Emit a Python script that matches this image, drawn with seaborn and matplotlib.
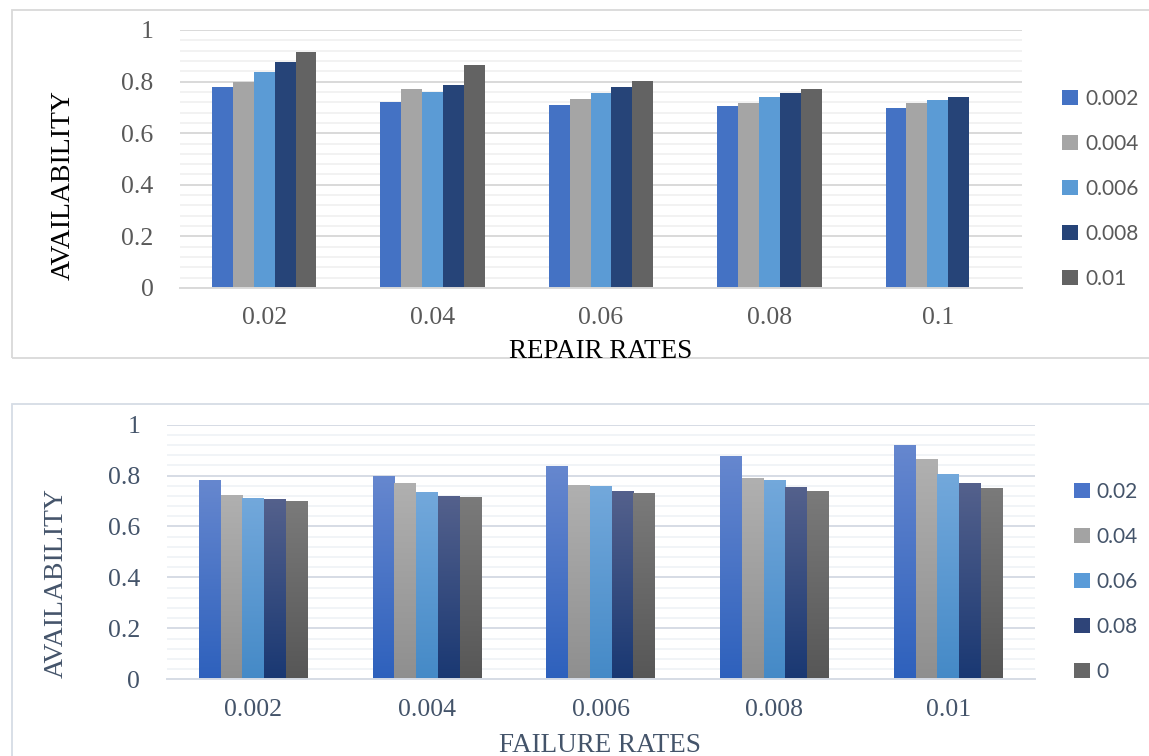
import numpy as np
import pandas as pd
import matplotlib
matplotlib.use("Agg")
import matplotlib.pyplot as plt
from matplotlib.patches import Patch
from matplotlib.ticker import MultipleLocator
import seaborn as sns

# ---- data -------------------------------------------------------------
repair_rates = ["0.02", "0.04", "0.06", "0.08", "0.1"]
failure_rates = ["0.002", "0.004", "0.006", "0.008", "0.01"]

# availability per failure rate (rows) across repair rates (columns)
avail_fr_0002 = [0.780, 0.722, 0.709, 0.704, 0.697]
avail_fr_0004 = [0.798, 0.770, 0.732, 0.718, 0.716]
avail_fr_0006 = [0.836, 0.759, 0.757, 0.739, 0.728]
avail_fr_0008 = [0.876, 0.788, 0.779, 0.754, 0.739]
avail_fr_001 = [0.916, 0.863, 0.802, 0.770, None]

# second panel: availability per repair rate across failure rates
bottom_categories = ["0.002", "0.004", "0.006", "0.008", "0.01"]
bottom_series = ["0.02", "0.04", "0.06", "0.08", "0"]
avail_rr_002 = [0.782, 0.798, 0.838, 0.877, 0.920]
avail_rr_004 = [0.724, 0.771, 0.763, 0.790, 0.865]
avail_rr_006 = [0.712, 0.735, 0.759, 0.782, 0.806]
avail_rr_008 = [0.708, 0.720, 0.739, 0.755, 0.771]
avail_rr_0 = [0.700, 0.716, 0.731, 0.739, 0.751]

top_values = [avail_fr_0002, avail_fr_0004, avail_fr_0006, avail_fr_0008, avail_fr_001]
bottom_values = [avail_rr_002, avail_rr_004, avail_rr_006, avail_rr_008, avail_rr_0]


def long_frame(cats, series, values):
    rows = []
    for s, vals in zip(series, values):
        for c, v in zip(cats, vals):
            if v is not None:
                rows.append({"cat": c, "series": s, "value": v})
    return pd.DataFrame(rows)


df_top = long_frame(repair_rates, failure_rates, top_values)
df_bot = long_frame(bottom_categories, bottom_series, bottom_values)

# ---- style --------------------------------------------------------------
sns.set_theme(style="white")
plt.rcParams["font.family"] = ["Liberation Serif", "DejaVu Serif"]

W, H = 1149, 756
fig = plt.figure(figsize=(W / 100, H / 100), dpi=100)
fig.patch.set_facecolor("white")


def fx(px):
    return px / W


def fy(py):
    return 1 - py / H


# panel frames
fig.add_artist(plt.Rectangle((fx(11.5), fy(358)), fx(1149 - 11.5) + 0.01, (358 - 10) / H,
                             transform=fig.transFigure, fill=False,
                             edgecolor="#d9d9d9", linewidth=1.3))
fig.add_artist(plt.Rectangle((fx(11.5), fy(780)), fx(1149 - 11.5) + 0.01, (780 - 404) / H,
                             transform=fig.transFigure, fill=False,
                             edgecolor="#d6dce5", linewidth=1.3))

top_colors = ["#4472C4", "#A5A5A5", "#5B9BD5", "#264478", "#636363"]
# (top colour, bottom colour) pairs for the gradient bars
grad_colors = [
    ((0.40, 0.53, 0.81), (0.18, 0.38, 0.74)),
    ((0.69, 0.69, 0.69), (0.56, 0.56, 0.56)),
    ((0.45, 0.66, 0.86), (0.27, 0.54, 0.78)),
    ((0.33, 0.38, 0.55), (0.10, 0.22, 0.45)),
    ((0.48, 0.48, 0.48), (0.34, 0.34, 0.34)),
]
bottom_legend_colors = ["#4A74C9", "#A3A3A3", "#5A9BD8", "#2E4478", "#676767"]


def style_axis(ax, major_c, minor_c, tick_c):
    ax.set_ylim(0, 1)
    ax.yaxis.set_major_locator(MultipleLocator(0.2))
    ax.yaxis.set_minor_locator(MultipleLocator(0.04))
    ax.grid(axis="y", which="major", color=major_c, linewidth=1.4, zorder=0)
    ax.grid(axis="y", which="minor", color=minor_c, linewidth=1.1, zorder=0)
    ax.grid(axis="x", visible=False)
    ax.set_axisbelow(True)
    for side in ["top", "right", "left"]:
        ax.spines[side].set_visible(False)
    ax.spines["bottom"].set_color(major_c)
    ax.spines["bottom"].set_linewidth(1.4)
    ax.tick_params(axis="both", which="both", length=0, labelsize=18.5,
                   labelcolor=tick_c)
    ax.tick_params(axis="y", pad=19)
    ax.tick_params(axis="x", pad=14)
    ax.set_xlabel("")
    ax.set_ylabel("")
    yt = [0, 0.2, 0.4, 0.6, 0.8, 1.0]
    ax.set_yticks(yt)
    ax.set_yticklabels(["0", "0.2", "0.4", "0.6", "0.8", "1"])


# ---- top panel ------------------------------------------------------------
ax1 = fig.add_axes([fx(180), fy(288), fx(842), 258 / H])
sns.barplot(data=df_top, x="cat", y="value", hue="series", order=repair_rates,
            hue_order=failure_rates, palette=top_colors, width=0.62,
            saturation=1, legend=False, ax=ax1, edgecolor="none")
style_axis(ax1, "#d9d9d9", "#efefef", "#595959")
ax1.set_xlim(-0.5, len(repair_rates) - 0.5)

fig.text(fx(63), fy(185), "AVAILABILITY", rotation=90, ha="center", va="center",
         fontsize=20, color="#000000")
fig.text(fx(601), fy(352), "REPAIR RATES", ha="center", va="center",
         fontsize=19.5, color="#000000")

h1 = [Patch(facecolor=c, edgecolor="none") for c in top_colors]
fig.legend(h1, failure_rates, loc="center left", bbox_to_anchor=(fx(1052), fy(189)),
           frameon=False, borderpad=0, handlelength=0.75, handleheight=0.75,
           handletextpad=0.35, labelspacing=1.2,
           prop={"family": "Lato", "size": 15}, labelcolor="#595959")

# ---- bottom panel ---------------------------------------------------------
ax2 = fig.add_axes([fx(166.5), fy(679.3), fx(868.5), 254.7 / H])
sns.barplot(data=df_bot, x="cat", y="value", hue="series", order=bottom_categories,
            hue_order=bottom_series, palette=bottom_legend_colors, width=0.626,
            saturation=1, legend=False, ax=ax2, edgecolor="none")
style_axis(ax2, "#d6dce5", "#eef1f5", "#44546A")

# vertical gradient fill for each bar, clipped to the bar shape
for container, (c_top, c_bot) in zip(ax2.containers, grad_colors):
    for bar in container:
        x0 = bar.get_x()
        w = bar.get_width()
        h = bar.get_height()
        n = 64
        t = np.linspace(0, 1, n)[:, None]
        grad = (1 - t) * np.array(c_bot) + t * np.array(c_top)
        img = ax2.imshow(grad[:, None, :], extent=[x0, x0 + w, 0, h], origin="lower",
                         aspect="auto", zorder=bar.get_zorder(), interpolation="bilinear")
        img.set_clip_path(bar)
        bar.set_facecolor("none")
ax2.set_xlim(-0.5, len(bottom_categories) - 0.5)
ax2.set_ylim(0, 1)

fig.text(fx(56), fy(583), "AVAILABILITY", rotation=90, ha="center", va="center",
         fontsize=20, color="#44546A")
fig.text(fx(600), fy(745), "FAILURE RATES", ha="center", va="center",
         fontsize=19.5, color="#44546A")

h2 = [Patch(facecolor=c, edgecolor="none") for c in bottom_legend_colors]
fig.legend(h2, bottom_series, loc="center left", bbox_to_anchor=(fx(1064), fy(582)),
           frameon=False, borderpad=0, handlelength=0.75, handleheight=0.75,
           handletextpad=0.3, labelspacing=1.2,
           prop={"family": "Lato", "size": 15}, labelcolor="#44546A")

fig.savefig("out.png", dpi=100, facecolor="white")
